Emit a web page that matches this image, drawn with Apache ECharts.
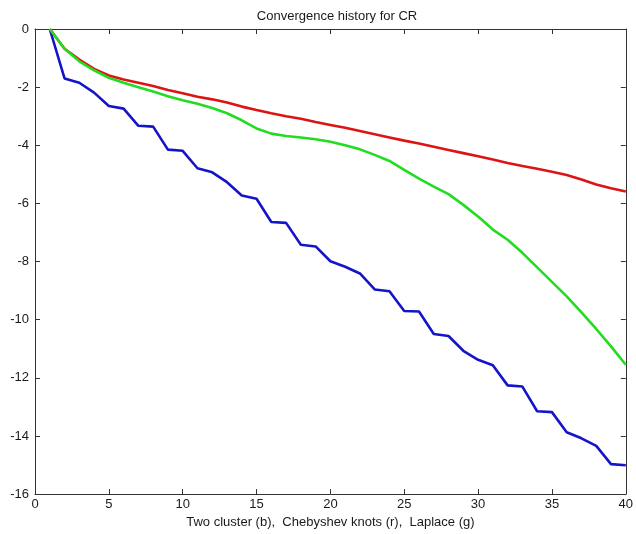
<!DOCTYPE html>
<html>
<head>
<meta charset="utf-8">
<script src="https://cdn.jsdelivr.net/npm/echarts@6/dist/echarts.min.js"></script>
<style>
  html, body { margin: 0; padding: 0; background: #fff; }
  #chart { width: 636px; height: 534px; }
</style>
</head>
<body>
<div id="chart"></div>
<script>
// Iteration numbers 1..40
const iterations = [1,2,3,4,5,6,7,8,9,10,11,12,13,14,15,16,17,18,19,20,
                    21,22,23,24,25,26,27,28,29,30,31,32,33,34,35,36,37,38,39,40];

// log10 residual histories
const twoCluster = [0, -1.70, -1.85, -2.19, -2.65, -2.74, -3.33, -3.36, -4.15, -4.19,
                    -4.79, -4.93, -5.27, -5.73, -5.84, -6.64, -6.67, -7.42, -7.48, -7.99,
                    -8.18, -8.41, -8.96, -9.02, -9.70, -9.72, -10.49, -10.56, -11.07, -11.38,
                    -11.57, -12.26, -12.30, -13.15, -13.18, -13.87, -14.08, -14.34, -14.97, -15.01];

const chebyshev = [0, -0.68, -1.05, -1.37, -1.60, -1.74, -1.85, -1.96, -2.10, -2.21,
                   -2.33, -2.42, -2.53, -2.67, -2.79, -2.90, -3.00, -3.09, -3.20, -3.30,
                   -3.40, -3.51, -3.62, -3.73, -3.84, -3.94, -4.05, -4.16, -4.27, -4.38,
                   -4.49, -4.61, -4.71, -4.81, -4.91, -5.02, -5.18, -5.35, -5.48, -5.59];

const laplace = [0, -0.68, -1.11, -1.42, -1.68, -1.85, -2.00, -2.15, -2.31, -2.45,
                 -2.57, -2.72, -2.90, -3.14, -3.42, -3.60, -3.68, -3.73, -3.79, -3.88,
                 -4.00, -4.14, -4.33, -4.54, -4.85, -5.15, -5.42, -5.68, -6.05, -6.45,
                 -6.90, -7.25, -7.70, -8.20, -8.70, -9.20, -9.75, -10.32, -10.92, -11.55];

const titleText = 'Convergence history for CR';
const xLabelText = 'Two cluster (b),  Chebyshev knots (r),  Laplace (g)';

const pairs = ys => iterations.map((x, i) => [x, ys[i]]);

const font = 'Liberation Sans, Arial, sans-serif';
const textColor = '#1a1a1a';
const axisColor = '#333';

// Boxed frame: every side carries an axis line with inward ticks
const frameAxis = (extra) => Object.assign({
  type: 'value',
  axisLine: { show: true, onZero: false, lineStyle: { color: axisColor, width: 1 } },
  axisTick: { show: true, inside: true, length: 5, lineStyle: { color: axisColor } },
  splitLine: { show: false }
}, extra);

const chart = echarts.init(document.getElementById('chart'), null, { renderer: 'canvas' });

chart.setOption({
  animation: false,
  backgroundColor: '#fff',
  title: {
    text: titleText,
    left: 332, top: 5, textAlign: 'center',
    textStyle: { fontFamily: font, fontSize: 13, fontWeight: 'normal', color: textColor }
  },
  grid: { left: 35, right: 8, top: 29, bottom: 37, containLabel: false },
  xAxis: [
    frameAxis({
      min: 0, max: 40, interval: 5, position: 'bottom',
      name: xLabelText, nameLocation: 'middle', nameGap: 21,
      nameTextStyle: { fontFamily: font, fontSize: 13, color: textColor },
      axisLabel: { fontFamily: font, fontSize: 13, color: textColor, margin: 4 }
    }),
    frameAxis({
      min: 0, max: 40, interval: 5, position: 'top',
      axisLabel: { show: false }
    })
  ],
  yAxis: [
    frameAxis({
      min: -16, max: 0, interval: 2, position: 'left',
      axisLabel: { fontFamily: font, fontSize: 13, color: textColor, margin: 6 }
    }),
    frameAxis({
      min: -16, max: 0, interval: 2, position: 'right',
      axisLabel: { show: false }
    })
  ],
  series: [
    {
      name: 'Two cluster', type: 'line', data: pairs(twoCluster),
      showSymbol: false, lineStyle: { color: '#1414c8', width: 2.6 }, z: 3
    },
    {
      name: 'Chebyshev knots', type: 'line', data: pairs(chebyshev),
      showSymbol: false, lineStyle: { color: '#dc1414', width: 2.6 }, z: 4
    },
    {
      name: 'Laplace', type: 'line', data: pairs(laplace),
      showSymbol: false, lineStyle: { color: '#22dc22', width: 2.6 }, z: 5
    }
  ]
});
</script>
</body>
</html>
